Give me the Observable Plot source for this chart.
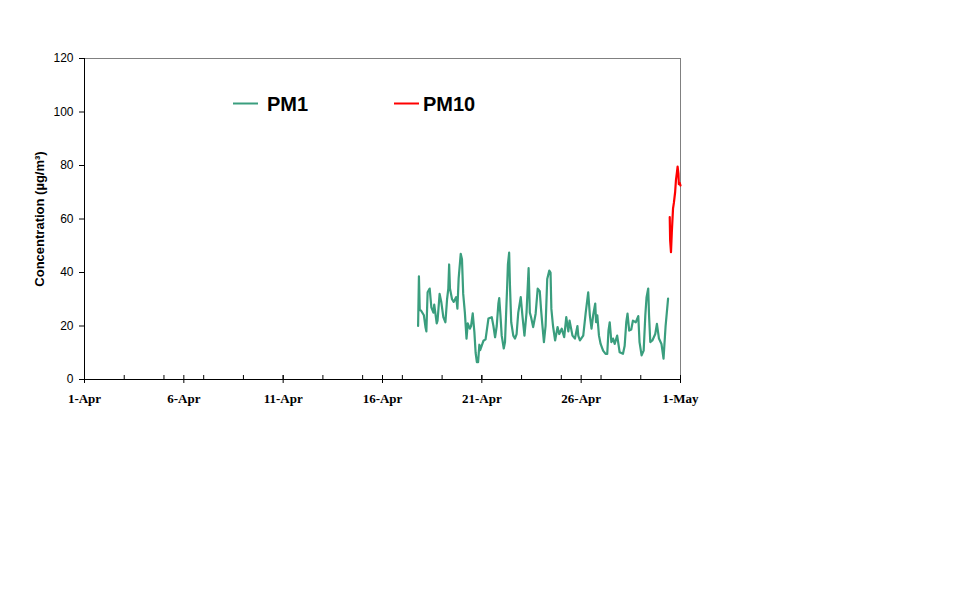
<!DOCTYPE html>
<html>
<head>
<meta charset="utf-8">
<script src="https://cdn.jsdelivr.net/npm/d3@7"></script>
<script src="https://cdn.jsdelivr.net/npm/@observablehq/plot@0.6"></script>
<style>
  html, body { margin: 0; padding: 0; background: #ffffff; }
  #chart svg { display: block; }
</style>
</head>
<body>
<div id="chart"></div>
<script>
// ---------- data ----------
const year = "2007";

const seriesNames = ["PM1", "PM10"];
const seriesColors = ["#3a9e7e", "#ff0000"];

const pm1Times = [
  "04-17 19:00","04-17 20:00","04-17 21:00","04-17 22:30","04-18 02:00","04-18 04:00","04-18 05:00","04-18 06:30",
  "04-18 09:00","04-18 11:00","04-18 13:30","04-18 14:30","04-18 17:30","04-18 18:30","04-18 21:00","04-18 23:00",
  "04-19 01:30","04-19 04:00","04-19 06:00","04-19 07:30","04-19 08:30","04-19 09:30","04-19 12:00","04-19 14:00",
  "04-19 17:00","04-19 18:30","04-19 20:00","04-19 22:30","04-20 00:00","04-20 01:30","04-20 03:30","04-20 05:30",
  "04-20 07:00","04-20 09:30","04-20 11:00","04-20 13:00","04-20 15:00","04-20 16:30","04-20 18:00","04-20 19:30",
  "04-20 21:00","04-20 22:00","04-21 02:00","04-21 04:30","04-21 08:00","04-21 12:00","04-21 14:00","04-21 16:00",
  "04-21 18:00","04-21 20:00","04-21 21:00","04-21 22:30","04-22 00:00","04-22 02:30","04-22 04:00","04-22 06:30",
  "04-22 07:30","04-22 09:00","04-22 10:00","04-22 11:30","04-22 14:00","04-22 16:00","04-22 18:00","04-22 20:00",
  "04-22 23:00","04-23 01:00","04-23 03:30","04-23 06:00","04-23 08:30","04-23 10:00","04-23 11:30","04-23 14:00",
  "04-23 17:00","04-23 19:30","04-23 22:00","04-23 23:30","04-24 01:00","04-24 03:00","04-24 05:00","04-24 07:00",
  "04-24 09:30","04-24 11:00","04-24 12:00","04-24 14:00","04-24 16:30","04-24 19:30","04-24 21:30","04-25 00:30",
  "04-25 03:30","04-25 06:00","04-25 08:30","04-25 10:00","04-25 13:30","04-25 16:30","04-25 19:30","04-25 20:30",
  "04-25 22:30","04-26 02:30","04-26 05:30","04-26 08:30","04-26 10:30","04-26 12:30","04-26 14:30","04-26 17:00",
  "04-26 18:00","04-26 19:30","04-26 21:30","04-26 23:30","04-27 02:30","04-27 05:30","04-27 07:30","04-27 09:00",
  "04-27 10:30","04-27 12:30","04-27 14:30","04-27 16:30","04-27 19:30","04-27 22:30","04-28 02:30","04-28 04:30",
  "04-28 06:30","04-28 08:00","04-28 10:00","04-28 12:30","04-28 14:30","04-28 18:00","04-28 21:00","04-28 22:30",
  "04-29 01:00","04-29 03:30","04-29 05:30","04-29 07:00","04-29 09:00","04-29 10:00","04-29 11:30","04-29 14:00",
  "04-29 17:30","04-29 19:30","04-29 22:00","04-30 01:00","04-30 03:30","04-30 06:00","04-30 09:00"
];
const pm1Values = [
  20, 38.6, 26, 25.8, 24, 19.4, 18, 32.6,
  34, 27, 25, 28, 21, 22, 32, 29,
  23.3, 21.4, 30, 34, 43, 34, 30, 29,
  30.8, 26.5, 37.8, 47, 45, 32, 25, 15.3,
  21, 19, 20, 24.7, 17.7, 10, 6.5, 6.5,
  13, 11, 14.5, 15, 22.8, 23.3, 20, 15.8,
  20, 28.4, 30.4, 24, 16.4, 11.6, 14, 34,
  43, 47.4, 35, 21.4, 16.4, 15.3, 17, 25,
  30.8, 24, 16.4, 25, 41.6, 25, 23.3, 19.6,
  24.6, 34, 33, 26.4, 20.8, 14, 20, 37.6,
  40.7, 40, 26.4, 20, 14.6, 19.6, 17, 19,
  15.8, 23.3, 18, 22, 16.4, 15.3, 20, 16.4,
  14.6, 16.4, 25, 32.6, 24, 19, 24, 28.4,
  21.4, 24, 16.4, 13.3, 10.8, 9.6, 9.6, 18.3,
  21.4, 14, 15.3, 13.3, 16.4, 10.2, 9.6, 12.5,
  21.4, 24.6, 18.3, 18.7, 22, 21.4, 23.7, 14,
  9, 10.8, 24, 30.8, 34, 24, 14, 14.6,
  17, 20.8, 15.3, 13.3, 7.8, 20, 30.2
];

const pm10Times = [
  "04-30 11:00","04-30 11:30","04-30 12:30","04-30 13:30","04-30 15:00","04-30 16:00","04-30 17:30",
  "04-30 18:30","04-30 19:30","04-30 20:30","04-30 21:30","04-30 22:00","04-30 23:00","05-01 00:00"
];
const pm10Values = [60.7, 52, 47.6, 55, 64, 66, 70, 74.5, 77, 79.6, 77, 73, 73.5, 72.5];

const xDomain = ["04-01 00:00", "05-01 00:00"];
const yDomain = [0, 120];
const yTicks = [0, 20, 40, 60, 80, 100, 120];
const xMajorTicks = ["04-01","04-06","04-11","04-16","04-21","04-26","05-01"];
const xMinorTicks = ["04-03","04-05","04-07","04-09","04-11","04-13","04-15","04-17","04-19",
                     "04-21","04-23","04-25","04-27","04-29"];
const yLabel = "Concentration (µg/m³)";

// ---------- build ----------
const parseT = d3.utcParse("%Y-%m-%d %H:%M");
const parseD = d3.utcParse("%Y-%m-%d");
const pm1 = pm1Times.map((t, i) => ({ date: parseT(`${year}-${t}`), value: pm1Values[i] }));
const pm10 = pm10Times.map((t, i) => ({ date: parseT(`${year}-${t}`), value: pm10Values[i] }));
const xDom = xDomain.map(t => parseT(`${year}-${t}`));
const majors = xMajorTicks.map(d => parseD(`${year}-${d}`));
const minors = xMinorTicks.map(d => parseD(`${year}-${d}`));

const sans = "'Liberation Sans', Arial, Helvetica, sans-serif";
const serif = "'Liberation Serif', 'Times New Roman', Times, serif";

const plot = Plot.plot({
  width: 975,
  height: 599,
  marginLeft: 84,
  marginRight: 295,
  marginTop: 58,
  marginBottom: 220,
  style: { fontFamily: sans, background: "#ffffff", color: "#000000", overflow: "visible" },
  x: { type: "utc", domain: xDom },
  y: { domain: yDomain },
  marks: [
    Plot.ruleY([yDomain[1]], { stroke: "#808080", strokeWidth: 1 }),
    Plot.ruleX([xDom[1]], { stroke: "#808080", strokeWidth: 1 }),
    Plot.line(pm1, { x: "date", y: "value", stroke: seriesColors[0], strokeWidth: 2.2 }),
    Plot.line(pm10, { x: "date", y: "value", stroke: seriesColors[1], strokeWidth: 2.2 }),
    Plot.ruleY([yDomain[0]], { stroke: "#000000", strokeWidth: 1 }),
    Plot.ruleX([xDom[0]], { stroke: "#000000", strokeWidth: 1 }),
    Plot.axisY({ ticks: yTicks, tickSize: 5, tickPadding: 6, fontSize: 12, label: null, tickFormat: d => String(d) }),
    Plot.axisX({ ticks: majors, tickSize: 4, tickPadding: 10, label: null,
                 tickFormat: d3.utcFormat("%-d-%b"), fontSize: 13, fontWeight: "bold", fontFamily: serif }),
    Plot.axisX({ ticks: majors.concat(minors), tickSize: -4, tickPadding: 0, label: null, tickFormat: () => "" }),
    Plot.text([yLabel], { frameAnchor: "left", textAnchor: "middle", rotate: -90, dx: -45,
                          fontSize: 13, fontWeight: "bold", fill: "#000000" })
  ]
});

// legend inside the plot area
const svg = d3.select(plot);
const legendItems = [
  { name: seriesNames[0], color: seriesColors[0], x0: 233, tx: 267 },
  { name: seriesNames[1], color: seriesColors[1], x0: 394, tx: 423 }
];
const lg = svg.append("g").attr("class", "legend").attr("text-anchor", "start");
legendItems.forEach(it => {
  lg.append("line").attr("x1", it.x0).attr("x2", it.x0 + 25).attr("y1", 103.5).attr("y2", 103.5)
    .attr("stroke", it.color).attr("stroke-width", 2);
  lg.append("text").attr("x", it.tx).attr("y", 111)
    .attr("text-anchor", "start")
    .attr("font-family", sans).attr("font-weight", "bold").attr("font-size", 20)
    .attr("fill", "#000000").text(it.name);
});

document.getElementById("chart").appendChild(plot);
</script>
</body>
</html>
